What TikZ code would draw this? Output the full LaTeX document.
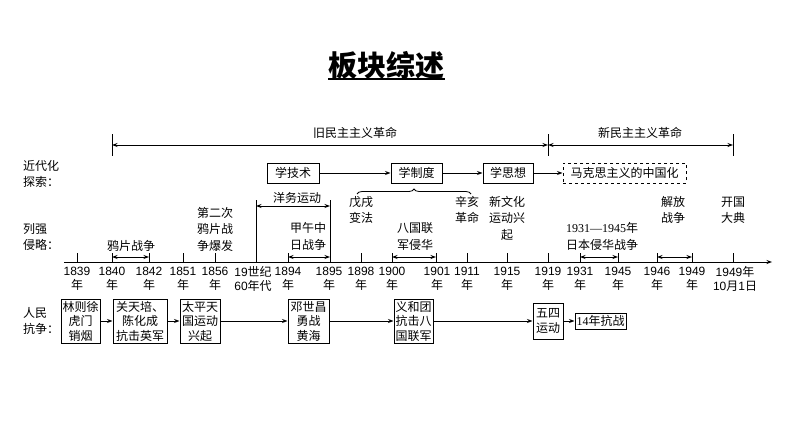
\documentclass[tikz,border=0pt]{standalone}
\usepackage{fontspec}
\setmainfont{Noto Sans CJK SC}
\newfontfamily\yearfont{Liberation Sans}
\newfontfamily\serifnum{Liberation Serif}
\usetikzlibrary{arrows.meta,decorations.pathreplacing}
\newcommand\yrlab[1]{{\yearfont #1}\\年}
\begin{document}
\begin{tikzpicture}[x=1pt,y=-1pt,
  txt/.style={font=\fontsize{12}{16.5}\selectfont, align=center, inner sep=0pt},
  yr/.style={font=\fontsize{12}{14}\selectfont, align=center, inner sep=0pt},
  box/.style={draw, line width=1pt, inner sep=0pt, align=center, font=\fontsize{12}{14.5}\selectfont},
  arr/.style={line width=0.8pt, -{Stealth[length=5.5pt,width=4pt]}},
  darr/.style={line width=0.8pt, {Stealth[length=5.5pt,width=4pt]}-{Stealth[length=5.5pt,width=4pt]}},
  tickline/.style={line width=0.8pt}]
\useasboundingbox (0,0) rectangle (794,447);

% title
\node[inner sep=0pt, font=\fontsize{29}{32}\selectfont\bfseries] (title) at (386,65) {板块综述};
\draw[line width=1.4pt] (328,79) -- (445,79);

% top periods
\coordinate (p1) at (112,145);
\coordinate (p2) at (548,145);
\coordinate (p3) at (733,145);
\draw[tickline] (112,134) -- (112,156);
\draw[tickline] (548,134) -- (548,156);
\draw[tickline] (733,134) -- (733,156);
\draw[darr] (p1) -- (p2);
\draw[darr] (p2) -- (p3);
\node[txt] (old) at (355,133) {旧民主主义革命};
\node[txt] (new) at (640,133) {新民主主义革命};

% row labels
\node[txt, align=left, anchor=west] (lab1) at (23,174) {近代化\\探索：};
\node[txt, align=left, anchor=west] (lab2) at (23,237) {列强\\侵略：};
\node[txt, align=left, anchor=west] (lab3) at (23,321) {人民\\抗争：};

% modernization boxes
\node[box, minimum width=52pt, minimum height=20pt] (js) at (293,173) {学技术};
\node[box, minimum width=51pt, minimum height=20pt] (zd) at (416.5,173) {学制度};
\node[box, minimum width=50pt, minimum height=20pt] (sx) at (508,173) {学思想};
\node[box, dashed, minimum width=123pt, minimum height=20pt] (mk) at (624.5,173) {马克思主义的中国化};
\draw[arr] (js) -- (zd);
\draw[arr] (zd) -- (sx);
\draw[arr] (sx) -- (mk);
\draw[line width=0.8pt, decorate, decoration={brace, amplitude=5pt}] (357,194) -- (471,194);

% axis
\coordinate (a0) at (64,262);
\coordinate (a1) at (772,262);
\draw[arr] (a0) -- (a1);
\foreach \x in {77,112,149,183,215,288,361,392,436,467,507,548,580,618,657,692,733}
  \draw[tickline] (\x,253) -- (\x,262);
\draw[tickline] (256,200) -- (256,262);
\draw[tickline] (330,200) -- (330,262);

% year labels
\node[yr] (y1839) at (77,279) {\yrlab{1839}};
\node[yr] (y1840) at (112,279) {\yrlab{1840}};
\node[yr] (y1842) at (149,279) {\yrlab{1842}};
\node[yr] (y1851) at (183,279) {\yrlab{1851}};
\node[yr] (y1856) at (215,279) {\yrlab{1856}};
\node[yr] (y60) at (253,279) {{\yearfont 19}世纪\\{\yearfont 60}年代};
\node[yr] (y1894) at (288,279) {\yrlab{1894}};
\node[yr] (y1895) at (329,279) {\yrlab{1895}};
\node[yr] (y1898) at (361,279) {\yrlab{1898}};
\node[yr] (y1900) at (392,279) {\yrlab{1900}};
\node[yr] (y1901) at (437,279) {\yrlab{1901}};
\node[yr] (y1911) at (467,279) {\yrlab{1911}};
\node[yr] (y1915) at (507,279) {\yrlab{1915}};
\node[yr] (y1919) at (548,279) {\yrlab{1919}};
\node[yr] (y1931) at (580,279) {\yrlab{1931}};
\node[yr] (y1945) at (618,279) {\yrlab{1945}};
\node[yr] (y1946) at (657,279) {\yrlab{1946}};
\node[yr] (y1949) at (692,279) {\yrlab{1949}};
\node[yr] (y1001) at (735,279) {{\yearfont 1949}年\\{\yearfont 10}月{\yearfont 1}日};

% invasion / events
\node[txt] (yp) at (131,246) {鸦片战争};
\draw[darr] (112,257) -- (149,257);
\node[txt] (dec) at (215,229) {第二次\\鸦片战\\争爆发};
\node[txt] (yw) at (297,198) {洋务运动};
\draw[darr] (256,206) -- (330,206);
\node[txt] (jw) at (308,236.5) {甲午中\\日战争};
\draw[darr] (288,257) -- (330,257);
\node[txt] (wx) at (361,210) {戊戌\\变法};
\node[txt] (bg) at (415,236.5) {八国联\\军侵华};
\draw[darr] (392,257) -- (436,257);
\node[txt] (xh) at (467,210) {辛亥\\革命};
\node[txt] (xwh) at (507,218) {新文化\\运动兴\\起};
\node[txt] (rb) at (602,236.5) {{\serifnum 1931—1945}年\\日本侵华战争};
\draw[darr] (580,257) -- (618,257);
\node[txt] (jf) at (673,210) {解放\\战争};
\draw[darr] (657,257) -- (692,257);
\node[txt] (kg) at (733,210) {开国\\大典};

% people's struggle boxes
\node[box, minimum width=39pt, minimum height=44pt] (b1) at (80.5,321) {林则徐\\虎门\\销烟};
\node[box, minimum width=54pt, minimum height=44pt] (b2) at (140,321) {关天培、\\陈化成\\抗击英军};
\node[box, minimum width=40pt, minimum height=44pt] (b3) at (200,321) {太平天\\国运动\\兴起};
\node[box, minimum width=41pt, minimum height=44pt] (b4) at (308.5,321) {邓世昌\\勇战\\黄海};
\node[box, minimum width=39pt, minimum height=44pt] (b5) at (413.5,321) {义和团\\抗击八\\国联军};
\node[box, minimum width=30pt, minimum height=36pt] (b6) at (548,321) {五四\\运动};
\node[box, minimum width=51pt, minimum height=16pt] (b7) at (600.5,321) {{\serifnum 14}年抗战};
\draw[arr] (b1) -- (b2);
\draw[arr] (b2) -- (b3);
\draw[arr] (b3) -- (b4);
\draw[arr] (b4) -- (b5);
\draw[arr] (b5) -- (b6);
\draw[arr] (b6) -- (b7);
\end{tikzpicture}
\end{document}
